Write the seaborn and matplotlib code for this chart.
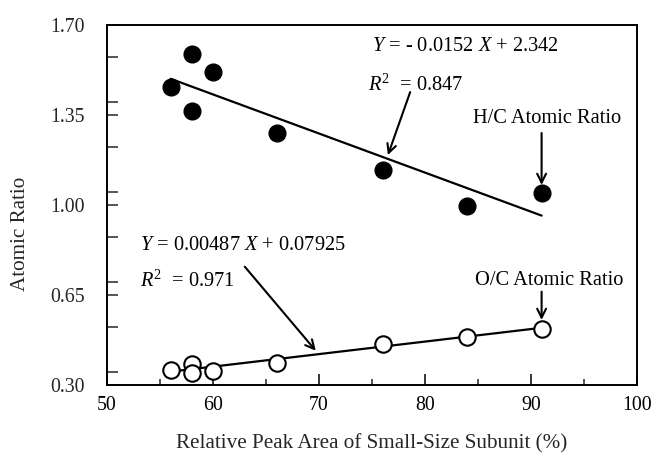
import matplotlib
matplotlib.use("Agg")
import matplotlib.pyplot as plt
from matplotlib.ticker import MultipleLocator, FixedLocator, FixedFormatter
import numpy as np
import pandas as pd
import seaborn as sns

# Relative peak area of small-size subunit (%) for each sample
peak_area = [56, 58, 60, 58, 66, 76, 84, 91]
# H/C atomic ratio (filled circles)
hc_ratio = [1.458, 1.586, 1.518, 1.366, 1.279, 1.136, 0.996, 1.045]
# O/C atomic ratio (open circles)
oc_peak_area = [56, 58, 58, 60, 66, 76, 84, 91]
oc_ratio = [0.358, 0.381, 0.345, 0.355, 0.384, 0.459, 0.485, 0.518]

# Linear fits
hc_slope, hc_intercept, hc_r2 = -0.0152, 2.342, 0.847
oc_slope, oc_intercept, oc_r2 = 0.00487, 0.07925, 0.971

y_ticks = [0.30, 0.65, 1.00, 1.35, 1.70]
x_ticks = [50, 60, 70, 80, 90, 100]

sns.set_style("ticks")
plt.rcParams["font.family"] = ["Liberation Serif", "DejaVu Serif"]
plt.rcParams["mathtext.fontset"] = "custom"
plt.rcParams["mathtext.rm"] = "Liberation Serif"
plt.rcParams["mathtext.it"] = "Liberation Serif:italic"

fig = plt.figure(figsize=(6.52, 4.57), dpi=100)
ax = fig.add_axes([107 / 652, 1 - 385 / 457, 530 / 652, 360 / 457])

hc = pd.DataFrame({"x": peak_area, "y": hc_ratio})
oc = pd.DataFrame({"x": oc_peak_area, "y": oc_ratio})

# Fitted lines over the observed range
hc_x = np.array([min(peak_area), max(peak_area)])
oc_x = np.array([min(oc_peak_area), max(oc_peak_area)])
sns.lineplot(x=hc_x, y=hc_slope * hc_x + hc_intercept, ax=ax, color="black", lw=1.6, zorder=2)
sns.lineplot(x=oc_x, y=oc_slope * oc_x + oc_intercept, ax=ax, color="black", lw=1.6, zorder=2)

sns.scatterplot(data=hc, x="x", y="y", ax=ax, s=145, color="black",
                edgecolor="black", linewidth=1.0, zorder=3)
sns.scatterplot(data=oc, x="x", y="y", ax=ax, s=140, color="white",
                edgecolor="black", linewidth=1.5, zorder=3)

ax.set_xlim(50, 100)
ax.set_ylim(0.30, 1.70)
ax.xaxis.set_major_locator(FixedLocator(x_ticks))
ax.xaxis.set_major_formatter(FixedFormatter([str(v) for v in x_ticks]))
ax.xaxis.set_minor_locator(MultipleLocator(5))
ax.yaxis.set_major_locator(FixedLocator(y_ticks))
ax.yaxis.set_major_formatter(FixedFormatter([f"{v:.2f}" for v in y_ticks]))
ax.yaxis.set_minor_locator(MultipleLocator(0.175))

for side in ["left", "right", "top", "bottom"]:
    ax.spines[side].set_visible(True)
    ax.spines[side].set_linewidth(1.4)
    ax.spines[side].set_color("black")

ax.tick_params(axis="x", which="major", direction="in", length=8, width=1.1,
               labelsize=14.3, pad=8, colors="black")
ax.tick_params(axis="x", which="minor", direction="in", length=4.5, width=1.1)
ax.tick_params(axis="y", which="both", direction="in", length=8, width=1.1)
ax.tick_params(axis="y", which="major", labelsize=14.3, pad=16)

ax.set_xlabel("Relative Peak Area of Small-Size Subunit (%)", fontsize=15.2)
ax.set_ylabel("Atomic Ratio", fontsize=15.2)
ax.xaxis.set_label_coords(0.5, -0.135)
ax.yaxis.set_label_coords(-0.145, 0.42)

tkw = dict(fontsize=14.7, va="center", ha="left", color="black")
ax.text(74.97, 1.616, r"$Y$ = - 0.0152 $X$ + 2.342", **tkw)
ax.text(74.6, 1.467, r"$R^2$  = 0.847", **tkw)
ax.text(84.5, 1.338, "H/C Atomic Ratio", **tkw)
ax.text(53.1, 0.844, r"$Y$ = 0.00487 $X$ + 0.07925", **tkw)
ax.text(53.1, 0.702, r"$R^2$  = 0.971", **tkw)
ax.text(84.7, 0.708, "O/C Atomic Ratio", **tkw)

akw = dict(arrowstyle="->", lw=1.5, color="black", mutation_scale=16,
           shrinkA=0, shrinkB=0)
ax.annotate("", xy=(76.5, 1.194), xytext=(78.6, 1.439), arrowprops=akw)
ax.annotate("", xy=(91.0, 1.078), xytext=(91.0, 1.28), arrowprops=akw)
ax.annotate("", xy=(69.7, 0.433), xytext=(63.0, 0.76), arrowprops=akw)
ax.annotate("", xy=(91.0, 0.553), xytext=(91.0, 0.663), arrowprops=akw)

fig.savefig("out.png", dpi=100, facecolor="white")
